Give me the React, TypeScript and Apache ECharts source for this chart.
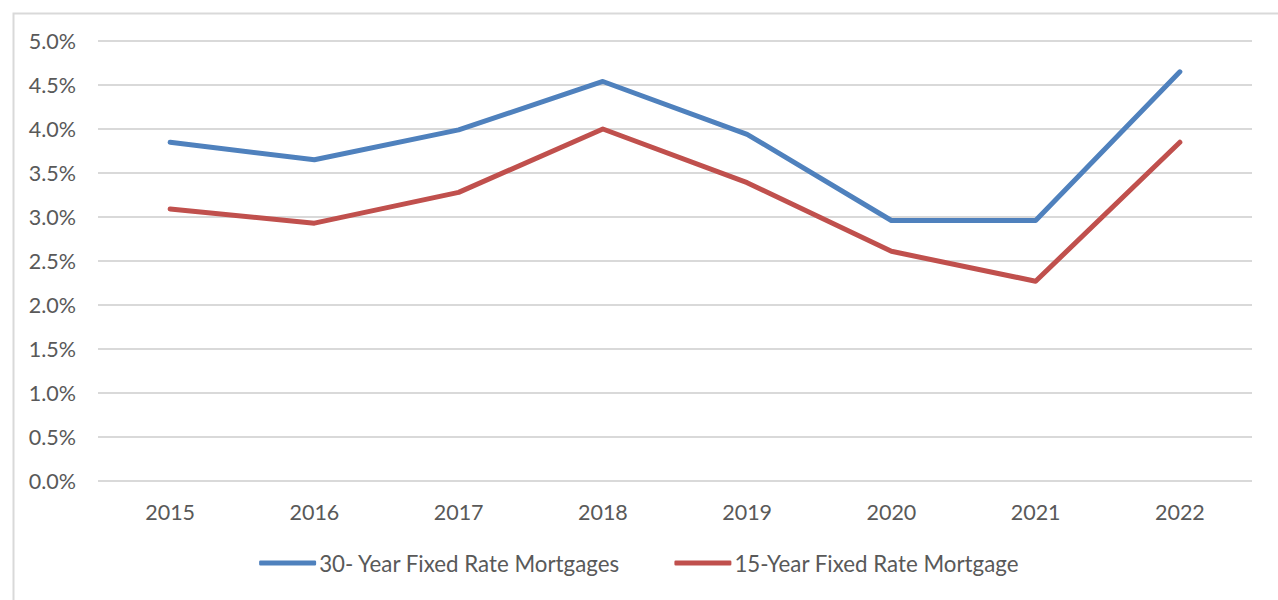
import React, { useEffect, useRef } from "react";
import * as echarts from "echarts";

const years = ["2015", "2016", "2017", "2018", "2019", "2020", "2021", "2022"];
const rate30 = [3.85, 3.65, 3.99, 4.54, 3.94, 2.96, 2.96, 4.65];
const rate15 = [3.09, 2.93, 3.28, 4.0, 3.39, 2.61, 2.27, 3.85];
const seriesNames = ["30- Year Fixed Rate Mortgages", "15-Year Fixed Rate Mortgage"];

const FONT = "Lato";
const TXT = "#595959";
const FS = 21.5;

export default function App() {
  const ref = useRef<HTMLDivElement>(null);
  useEffect(() => {
    const chart = echarts.init(ref.current!, null, { renderer: "svg" });
    chart.setOption({
      animation: false,
      backgroundColor: "#ffffff",
      textStyle: { fontFamily: FONT },
      graphic: [
        {
          type: "rect",
          left: 11,
          top: 11,
          shape: { width: 1290, height: 620 },
          style: { fill: "none", stroke: "#d9d9d9", lineWidth: 2 },
          silent: true,
          z: -1,
        },
      ],
      grid: { left: 98, right: 26, top: 41, bottom: 119 },
      legend: {
        bottom: 21,
        left: "center",
        icon: "roundRect",
        itemWidth: 57,
        itemHeight: 5,
        itemGap: 54,
        textStyle: { color: TXT, fontSize: 22.3, fontFamily: FONT, padding: [0, 0, 0, -2] },
        data: seriesNames,
      },
      xAxis: {
        type: "category",
        data: years,
        boundaryGap: true,
        axisLine: { show: false },
        axisTick: { show: false },
        axisLabel: { color: TXT, fontSize: FS, fontFamily: FONT, margin: 20 },
      },
      yAxis: {
        type: "value",
        min: 0,
        max: 5,
        interval: 0.5,
        axisLine: { show: false },
        axisTick: { show: false },
        axisLabel: {
          color: TXT,
          fontSize: FS,
          fontFamily: FONT,
          margin: 22,
          formatter: (v: number) => v.toFixed(1) + "%",
        },
        splitLine: { lineStyle: { color: "#d9d9d9", width: 2 } },
      },
      series: [
        {
          name: seriesNames[0],
          type: "line",
          data: rate30,
          symbol: "none",
          lineStyle: { color: "#4f81bd", width: 5, cap: "round", join: "round" },
          itemStyle: { color: "#4f81bd" },
        },
        {
          name: seriesNames[1],
          type: "line",
          data: rate15,
          symbol: "none",
          lineStyle: { color: "#c0504d", width: 5, cap: "round", join: "round" },
          itemStyle: { color: "#c0504d" },
        },
      ],
    });
    return () => chart.dispose();
  }, []);
  return (
    <div
      ref={ref}
      style={{ position: "absolute", left: 0, top: 0, width: 1278, height: 600 }}
    />
  );
}
